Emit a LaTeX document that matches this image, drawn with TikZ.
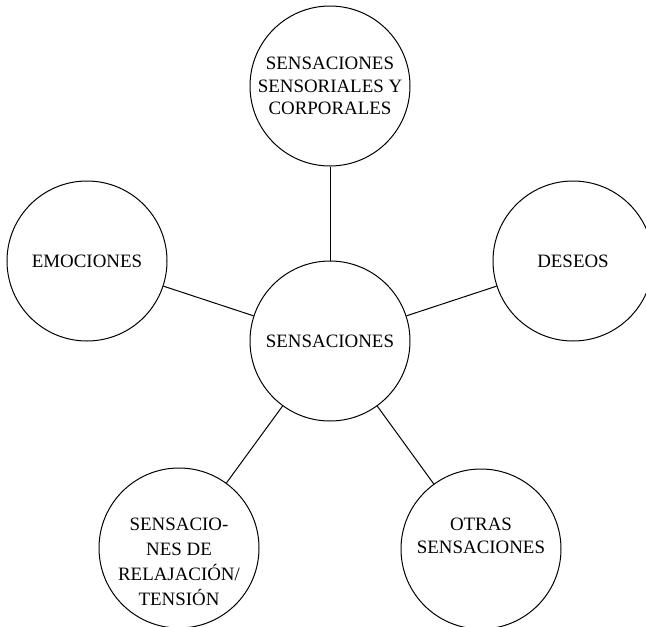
\documentclass[tikz,border=0pt]{standalone}
\usepackage{fontspec}
\setmainfont{Liberation Serif}
\begin{document}
\begin{tikzpicture}[x=1pt,y=-1pt,
  bubble/.style={circle,draw,line width=1pt,minimum size=160pt,inner sep=0pt},
  lbl/.style={align=center,inner sep=0pt,font=\fontsize{18.9}{22.5}\selectfont},
  link/.style={line width=1pt}]
\useasboundingbox (0,0) rectangle (646,627);
% circles on a regular pentagon around the hub
\node[bubble] (hub)   at (330,341) {};
\node[bubble] (top)   at (330,86)  {};
\node[bubble] (left)  at (87,261)  {};
\node[bubble] (right) at (573,261) {};
\node[bubble] (bl)    at (179,548) {};
\node[bubble] (br)    at (481,549) {};
% labels
\node[lbl] (hubtxt)   at (hub)   {SENSACIONES};
\node[lbl] (toptxt)   at (top)   {SENSACIONES\\SENSORIALES Y\\CORPORALES};
\node[lbl] (lefttxt)  at (left)  {EMOCIONES};
\node[lbl] (righttxt) at (right) {DESEOS};
\node[lbl,font=\fontsize{18.9}{25}\selectfont] (bltxt) at ([yshift=-14pt]bl) {SENSACIO-\\NES DE\\RELAJACIÓN/\\TENSIÓN};
\node[lbl] (brtxt)    at ([yshift=13pt]br) {OTRAS\\SENSACIONES};
% spokes
\draw[link] (hub) -- (top);
\draw[link] (hub) -- (left);
\draw[link] (hub) -- (right);
\draw[link] (hub) -- (bl);
\draw[link] (hub) -- (br);
\end{tikzpicture}
\end{document}
